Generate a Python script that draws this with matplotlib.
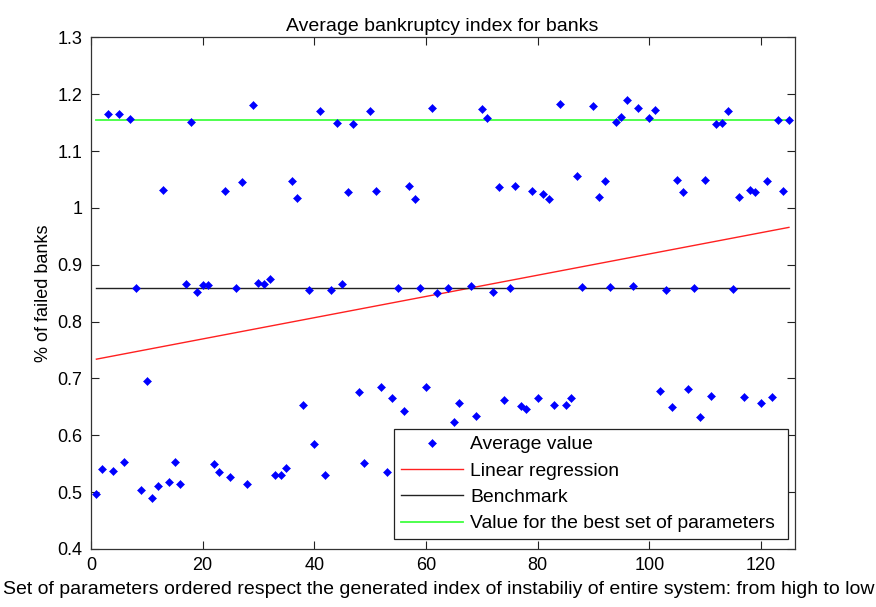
import numpy as np
import matplotlib
matplotlib.use("Agg")
import matplotlib.pyplot as plt

plt.rcParams['font.family'] = ['Liberation Sans', 'DejaVu Sans']

# average share of failed banks for each parameter set (ordered by instability index)
avg_value = [
    0.496, 0.540, 1.166, 0.538, 1.166, 0.553, 1.156, 0.859, 0.503, 0.695,
    0.490, 0.511, 1.032, 0.518, 0.553, 0.514, 0.866, 1.152, 0.853, 0.864,
    0.864, 0.549, 0.536, 1.030, 0.527, 0.859, 1.045, 0.514, 1.181, 0.868,
    0.866, 0.875, 0.530, 0.530, 0.542, 1.047, 1.017, 0.654, 0.855, 0.584,
    1.170, 0.531, 0.855, 1.150, 0.866, 1.028, 1.148, 0.676, 0.551, 1.170,
    1.030, 0.685, 0.536, 0.665, 0.859, 0.643, 1.039, 1.015, 0.859, 0.685,
    1.176, 0.851, 0.540, 0.859, 0.623, 0.656, 0.520, 0.862, 0.634, 1.174,
    1.159, 0.853, 1.036, 0.662, 0.859, 1.039, 0.652, 0.647, 1.030, 0.665,
    1.025, 1.015, 0.654, 1.183, 0.654, 0.665, 1.056, 0.861, 0.560, 1.179,
    1.019, 1.047, 0.861, 1.152, 1.160, 1.190, 0.862, 1.176, 0.530, 1.159,
    1.172, 0.678, 0.855, 0.650, 1.050, 1.028, 0.682, 0.859, 0.632, 1.050,
    0.670, 1.148, 1.150, 1.170, 0.857, 1.019, 0.667, 1.032, 1.028, 0.656,
    1.047, 0.667, 1.154, 1.030, 1.154,
]
fit_slope = 0.00187
fit_intercept = 0.7321
benchmark = 0.859
best_value = 1.154

x = np.arange(1, len(avg_value) + 1)

fig = plt.figure(figsize=(8.76, 6.07), dpi=100)
ax = fig.add_axes([0.1037, 0.0956, 0.8033, 0.8427])

ax.plot(x, avg_value, linestyle='none', marker='D', markersize=3.6,
        color='#0000ff', markeredgewidth=0.4, label='Average value', zorder=3)
ax.plot(x, fit_intercept + fit_slope * x, color='#ff2020', lw=1.0,
        label='Linear regression', zorder=2)
ax.plot(x, np.full(len(x), benchmark), color='#222222', lw=1.0,
        label='Benchmark', zorder=2)
ax.plot(x, np.full(len(x), best_value), color='#40ff40', lw=1.3,
        label='Value for the best set of parameters', zorder=2)

ax.set_xlim(0, 126)
ax.set_ylim(0.4, 1.3)
ax.set_xticks(np.arange(0, 121, 20))
ax.set_yticks(np.arange(0.4, 1.31, 0.1))
ax.set_yticklabels(['0.4', '0.5', '0.6', '0.7', '0.8', '0.9', '1', '1.1', '1.2', '1.3'])
ax.tick_params(direction='in', length=6, width=0.8, top=True, right=True,
               labelsize=13, colors='#222222', labelcolor='black', pad=6)
for s in ax.spines.values():
    s.set_color('#333333')
    s.set_linewidth(0.9)

ax.set_title('Average bankruptcy index for banks', fontsize=14, pad=5)
ax.set_ylabel('% of failed banks', fontsize=13, labelpad=4)
ax.set_xlabel('Set of parameters ordered respect the generated index of instabiliy '
              'of entire system: from high to low', fontsize=14)
ax.xaxis.set_label_coords(0.494, -0.062)

leg = ax.legend(loc='lower left', bbox_to_anchor=(0.4309, 0.019, 0.5599, 0.215),
                mode='expand', borderaxespad=0, fontsize=13.9, numpoints=1,
                handlelength=3.2, handletextpad=0.4, labelspacing=0.46,
                borderpad=0.35, fancybox=False, framealpha=1, edgecolor='#222222')
leg.get_frame().set_linewidth(0.9)
leg.set_zorder(5)

fig.savefig('out.png', dpi=100, facecolor='white')
